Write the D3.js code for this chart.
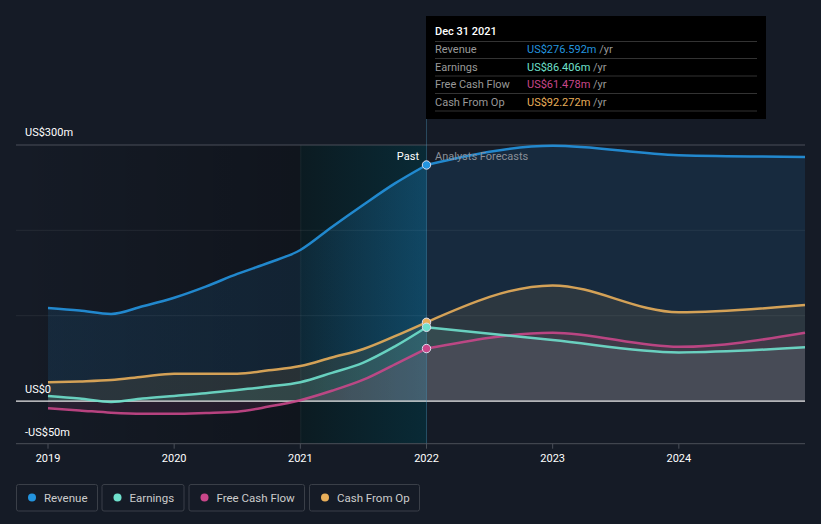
<!DOCTYPE html>
<html><head><meta charset="utf-8">
<script src="https://cdn.jsdelivr.net/npm/d3@7"></script>
<style>
html,body{margin:0;padding:0;background:#151b26;}
svg{display:block;font-family:Roboto,"Noto Sans",sans-serif;}
</style></head>
<body><svg id="c" width="821" height="524"></svg>
<script>
const pastYears = [2019,2019.25,2019.5,2019.75,2020,2020.25,2020.5,2020.75,2021,2021.25,2021.5,2021.75,2022];
const forecastYears = [2022,2023,2024,2025];
const revenuePast = [109,106,102,111,121,134,149,162,177,204,230,255,276.592];
const revenueFc = [276.592,299,288,286];
const earningsPast = [6,3,-1,3,6,9,13,17,22,33,45,64,86.406];
const earningsFc = [86.406,71.5,57,63];
const fcfPast = [-8.6,-11,-13.7,-15,-15,-14,-12.5,-6.5,1,12,25,43,61.478];
const fcfFc = [61.478,80,63.5,80];
const cfoPast = [22,23,24.6,28.5,32,32,32,36,41,51,61,76,92.272];
const cfoFc = [92.272,135.5,104,112.5];
const yTicks = [{v:300,l:"US$300m"},{v:0,l:"US$0"},{v:-50,l:"-US$50m"}];
const xTicks = [2019,2020,2021,2022,2023,2024];
const series = [
  {name:"Revenue", color:"#2394df", fill:"rgba(35,148,223,0.13)", past:revenuePast, fc:revenueFc, val:"US$276.592m"},
  {name:"Earnings", color:"#6fe0cc", fill:"rgba(111,224,204,0.12)", past:earningsPast, fc:earningsFc, val:"US$86.406m"},
  {name:"Free Cash Flow", color:"#c9478a", fill:"rgba(201,71,138,0.12)", past:fcfPast, fc:fcfFc, val:"US$61.478m"},
  {name:"Cash From Op", color:"#e8ae5a", fill:"rgba(232,174,90,0.10)", past:cfoPast, fc:cfoFc, val:"US$92.272m"}
];

(function(){
const svg = d3.select("#c");
const x = d3.scaleLinear().domain([2019,2025]).range([48,805]);
const y = d3.scaleLinear().domain([-50,300]).range([443.7,145]);
const pl = 16, pr = 805, pt = y(300), pb = y(-50);
const defs = svg.append("defs");

const g1 = defs.append("linearGradient").attr("id","pastG").attr("x1","0").attr("x2","1").attr("y1","0").attr("y2","0");
g1.append("stop").attr("offset","0").attr("stop-color","#000").attr("stop-opacity",0.0);
g1.append("stop").attr("offset","1").attr("stop-color","#000").attr("stop-opacity",0.24);
const g2 = defs.append("linearGradient").attr("id","lastG").attr("x1","0").attr("x2","1").attr("y1","0").attr("y2","0");
g2.append("stop").attr("offset","0").attr("stop-color","#081b20").attr("stop-opacity",0.75);
g2.append("stop").attr("offset","1").attr("stop-color","#052f3b").attr("stop-opacity",0.75);
const g3 = defs.append("linearGradient").attr("id","revPast").attr("gradientUnits","userSpaceOnUse")
  .attr("x1",x(2019)).attr("x2",x(2022)).attr("y1",0).attr("y2",0);
g3.append("stop").attr("offset","0").attr("stop-color","#2394df").attr("stop-opacity",0.12);
g3.append("stop").attr("offset","0.66").attr("stop-color","#2394df").attr("stop-opacity",0.11);
g3.append("stop").attr("offset","1").attr("stop-color","#2394df").attr("stop-opacity",0.27);
series[0].pastFill = "url(#revPast)";

svg.append("rect").attr("x",pl).attr("y",pt).attr("width",x(2021)-pl).attr("height",pb-pt).attr("fill","url(#pastG)");
svg.append("rect").attr("x",x(2021)).attr("y",pt).attr("width",x(2022)-x(2021)).attr("height",pb-pt).attr("fill","url(#lastG)");
svg.append("line").attr("x1",x(2021)+0.5).attr("x2",x(2021)+0.5).attr("y1",pt).attr("y2",pb).attr("stroke","rgba(255,255,255,0.05)");

[300,200,100].forEach(v=>{
  svg.append("line").attr("x1",pl).attr("x2",pr).attr("y1",y(v)).attr("y2",y(v))
    .attr("stroke", v===300 ? "#4a4f58" : "rgba(255,255,255,0.07)").attr("stroke-width",1);
});

const line = d3.line().x(d=>x(d[0])).y(d=>y(d[1])).curve(d3.curveMonotoneX);
const area = d3.area().x(d=>x(d[0])).y0(y(0)).y1(d=>y(d[1])).curve(d3.curveMonotoneX);

series.forEach(s=>{
  s.pts = pastYears.map((t,i)=>[t,s.past[i]]);
  s.fpts = forecastYears.map((t,i)=>[t,s.fc[i]]);
});
series.forEach(s=>{
  svg.append("path").attr("d",area(s.pts)).attr("fill",s.pastFill || s.fill);
  svg.append("path").attr("d",area(s.fpts)).attr("fill",s.fill);
});
svg.append("line").attr("x1",pl).attr("x2",pr).attr("y1",y(0)).attr("y2",y(0)).attr("stroke","#e8e8e8").attr("stroke-width",1.2);
svg.append("line").attr("x1",pl).attr("x2",pr).attr("y1",pb).attr("y2",pb).attr("stroke","#4a4f58").attr("stroke-width",1);

svg.append("line").attr("x1",x(2022)).attr("x2",x(2022)).attr("y1",119).attr("y2",pb).attr("stroke","rgba(80,160,200,0.35)").attr("stroke-width",1);

series.slice().reverse().forEach(s=>{
  svg.append("path").attr("d",line(s.pts)).attr("fill","none").attr("stroke",s.color).attr("stroke-width",2.5).attr("opacity",0.9);
  svg.append("path").attr("d",line(s.fpts)).attr("fill","none").attr("stroke",s.color).attr("stroke-width",2.5).attr("opacity",0.9);
});
series.slice().reverse().forEach(s=>{
  svg.append("circle").attr("cx",x(2022)).attr("cy",y(s.past[s.past.length-1])).attr("r",4.2)
    .attr("fill",s.color).attr("stroke","#dde").attr("stroke-width",1);
});

yTicks.forEach(t=>{
  const yy = t.v===300 ? y(300)-9 : y(t.v)-8;
  svg.append("text").attr("x",25).attr("y",yy).attr("fill","#fff").attr("font-size",11).text(t.l);
});
xTicks.forEach(t=>{
  svg.append("line").attr("x1",x(t)).attr("x2",x(t)).attr("y1",pb).attr("y2",pb+5).attr("stroke","#4a4f58");
  svg.append("text").attr("x",x(t)).attr("y",462).attr("text-anchor","middle").attr("fill","#fff").attr("font-size",11).text(t);
});

svg.append("text").attr("x",419).attr("y",160).attr("text-anchor","end").attr("fill","#fff").attr("font-size",11).text("Past");
svg.append("text").attr("x",435).attr("y",160).attr("fill","#8a8f98").attr("font-size",11).text("Analysts Forecasts");

const tt = svg.append("g");
tt.append("rect").attr("x",426).attr("y",16).attr("width",340).attr("height",103).attr("fill","#000");
tt.append("text").attr("x",435).attr("y",35).attr("fill","#fff").attr("font-size",11).attr("font-weight",500).text("Dec 31 2021");
[41.5,58.5,76,93.5,111].forEach(yy=>{
  tt.append("line").attr("x1",435).attr("x2",757).attr("y1",yy).attr("y2",yy).attr("stroke","#333");
});
series.forEach((s,i)=>{
  const yy = 53 + i*17.5;
  tt.append("text").attr("x",435).attr("y",yy).attr("fill","#999").attr("font-size",11).text(s.name);
  const t = tt.append("text").attr("x",527).attr("y",yy).attr("font-size",11);
  t.append("tspan").attr("fill",s.color).text(s.val);
  t.append("tspan").attr("fill","#999").text(" /yr");
});

const lg = [{x:16.5,w:81},{x:102,w:82},{x:189,w:115.5},{x:309.5,w:110}];
series.forEach((s,i)=>{
  const b = lg[i];
  svg.append("rect").attr("x",b.x).attr("y",484.5).attr("width",b.w).attr("height",26.5).attr("rx",2)
    .attr("fill","none").attr("stroke","#3a3f48");
  svg.append("circle").attr("cx",b.x+15.5).attr("cy",497.5).attr("r",4).attr("fill",s.color);
  svg.append("text").attr("x",b.x+27.5).attr("y",501.5).attr("fill","#ccc").attr("font-size",11.5).text(s.name);
});
})();
</script></body></html>
